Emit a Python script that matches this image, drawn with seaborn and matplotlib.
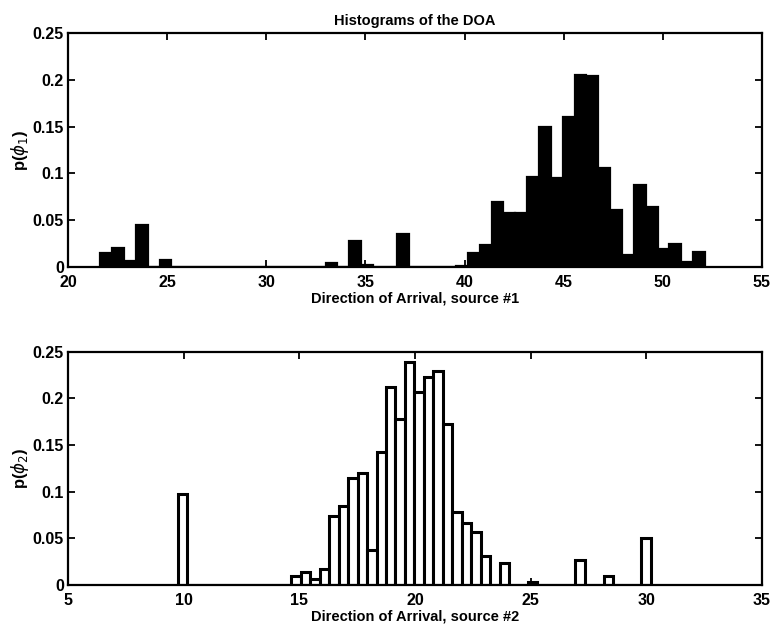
import numpy as np
import pandas as pd
import matplotlib
matplotlib.use("Agg")
import matplotlib.pyplot as plt
import seaborn as sns

# ---- data: histogram of source #1 (51 bins) ----
s1_start = 21.63
s1_binw = 0.598
s1_heights = [0.015, 0.020, 0.006, 0.045, 0.0, 0.007, 0.0, 0.0, 0.0, 0.0,
              0.0, 0.0, 0.0, 0.0, 0.0, 0.0, 0.0, 0.0, 0.0, 0.004,
              0.0, 0.027, 0.002, 0.0, 0.0, 0.035, 0.0, 0.0, 0.0, 0.0,
              0.001, 0.015, 0.023, 0.069, 0.058, 0.057, 0.096, 0.150, 0.095, 0.160,
              0.205, 0.204, 0.106, 0.061, 0.013, 0.088, 0.064, 0.019, 0.024, 0.005,
              0.016]

# ---- data: histogram of source #2 (50 bins) ----
s2_start = 9.75
s2_binw = 0.409
s2_heights = [0.098, 0.0, 0.0, 0.0, 0.0, 0.0, 0.0, 0.0, 0.0, 0.0,
              0.0, 0.0, 0.010, 0.014, 0.006, 0.017, 0.074, 0.085, 0.115, 0.120,
              0.038, 0.142, 0.212, 0.178, 0.239, 0.207, 0.223, 0.229, 0.172, 0.078,
              0.066, 0.057, 0.031, 0.0, 0.024, 0.0, 0.0, 0.003, 0.0, 0.0,
              0.0, 0.0, 0.027, 0.0, 0.0, 0.010, 0.0, 0.0, 0.0, 0.050]

yticks = [0, 0.05, 0.1, 0.15, 0.2, 0.25]
ytick_labels = ["0", "0.05", "0.1", "0.15", "0.2", "0.25"]
x1_ticks = [20, 25, 30, 35, 40, 45, 50, 55]
x2_ticks = [5, 10, 15, 20, 25, 30, 35]

title = "Histograms of the DOA"
xlabel1 = "Direction of Arrival, source #1"
xlabel2 = "Direction of Arrival, source #2"
ylabel1 = r"p($\phi_1$)"
ylabel2 = r"p($\phi_2$)"

sns.set_style("ticks")
plt.rcParams["font.family"] = ["Liberation Sans", "DejaVu Sans"]
plt.rcParams["mathtext.fontset"] = "dejavusans"
plt.rcParams["text.color"] = "black"
plt.rcParams["axes.labelcolor"] = "black"
plt.rcParams["xtick.color"] = "black"
plt.rcParams["ytick.color"] = "black"

fig = plt.figure(figsize=(7.71, 6.24), dpi=100)
ax1 = fig.add_axes([0.0882, 0.5726, 0.900, 0.374])
ax2 = fig.add_axes([0.0882, 0.0625, 0.900, 0.374])


def draw(ax, start, binw, heights, face, lw):
    n = len(heights)
    centers = start + binw * (np.arange(n) + 0.5)
    df = pd.DataFrame({"center": centers,
                       "p": np.asarray(heights, dtype=float)})
    sns.histplot(data=df, x="center", weights="p", bins=n,
                 binrange=(start, start + n * binw), ax=ax,
                 stat="count", element="bars", fill=True,
                 color=face, edgecolor="black", linewidth=lw, alpha=1.0)


draw(ax1, s1_start, s1_binw, s1_heights, "black", 1.6)
draw(ax2, s2_start, s2_binw, s2_heights, "white", 2.2)

for ax, xt, xl, yl in [(ax1, x1_ticks, xlabel1, ylabel1),
                       (ax2, x2_ticks, xlabel2, ylabel2)]:
    ax.set_xlim(xt[0], xt[-1])
    ax.set_ylim(0, 0.25)
    ax.set_xticks(xt)
    ax.set_xticklabels([str(v) for v in xt], fontsize=11.5, fontweight="bold",
                       color="black")
    ax.set_yticks(yticks)
    ax.set_yticklabels(ytick_labels, fontsize=11.5, fontweight="bold",
                       color="black")
    ax.tick_params(direction="in", top=True, right=True, length=5, width=1.3,
                   color="black")
    ax.tick_params(axis="x", pad=6)
    ax.tick_params(axis="y", pad=3)
    for sp in ax.spines.values():
        sp.set_visible(True)
        sp.set_linewidth(1.6)
        sp.set_color("black")
    ax.set_xlabel(xl, fontsize=10.5, fontweight="bold", labelpad=1, color="black")
    ax.set_ylabel(yl, fontsize=12, fontweight="bold", labelpad=1, color="black")

ax1.set_title(title, fontsize=10.5, fontweight="bold", pad=6, color="black")

fig.savefig("out.png", dpi=100, facecolor="white")
